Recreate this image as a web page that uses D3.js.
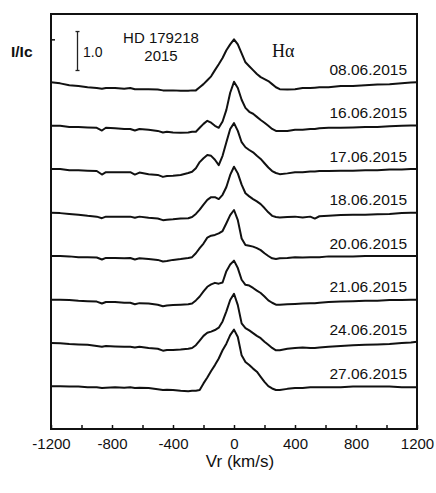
<!DOCTYPE html>
<html>
<head>
<meta charset="utf-8">
<script src="https://cdn.jsdelivr.net/npm/d3@7"></script>
<style>
  html, body { margin: 0; padding: 0; background: #fff; }
  svg text { font-family: "Liberation Sans", Arial, sans-serif; fill: #111; }
</style>
</head>
<body>
<svg id="chart" width="436" height="493"></svg>
<script>
// Radial velocity grid (km/s) shared by all H-alpha profiles
const velocity = [-1200,-1140,-1080,-1020,-960,-900,-866,-840,-780,-720,-680,-650,-620,-560,-500,-466,-440,-400,-350,-300,-275,-250,-225,-200,-175,-150,-125,-100,-75,-50,-25,0,25,50,75,100,125,150,175,200,225,250,275,300,350,400,450,500,530,560,620,700,780,860,940,1020,1100,1160,1200];

// Normalised intensity I/Ic for each night
const flux_0806 = [1.00,0.97,0.92,0.90,0.87,0.85,0.83,0.85,0.85,0.83,0.85,0.82,0.82,0.82,0.81,0.79,0.79,0.79,0.78,0.78,0.79,0.79,0.87,0.95,1.05,1.15,1.31,1.46,1.62,1.82,1.97,2.10,1.97,1.74,1.51,1.41,1.31,1.21,1.13,1.08,1.03,0.95,0.87,0.82,0.81,0.82,0.85,0.85,0.86,0.87,0.87,0.90,0.90,0.92,0.94,0.95,0.97,0.99,1.00];
const flux_1606 = [1.00,1.00,0.97,0.97,0.96,0.95,0.88,0.95,0.94,0.92,0.92,0.88,0.92,0.90,0.87,0.83,0.85,0.83,0.82,0.83,0.85,0.85,0.95,1.05,1.13,1.08,1.00,0.95,1.11,1.41,1.85,2.13,1.97,1.67,1.46,1.36,1.31,1.23,1.15,1.08,1.00,0.92,0.87,0.87,0.87,0.90,0.90,0.92,0.92,0.94,0.95,0.95,0.96,0.97,0.97,0.99,1.00,1.01,1.01];
const flux_1706 = [1.00,1.00,0.97,0.97,0.96,0.95,0.86,0.92,0.92,0.92,0.92,0.86,0.91,0.87,0.85,0.80,0.82,0.83,0.85,0.90,0.93,1.02,1.18,1.28,1.36,1.34,1.24,1.10,1.34,1.69,2.03,2.18,1.98,1.69,1.56,1.49,1.43,1.34,1.26,1.15,1.04,0.95,0.90,0.87,0.89,0.92,0.92,0.94,0.94,0.95,0.95,0.96,0.96,0.97,0.97,0.99,0.99,1.00,1.00];
const flux_1806 = [1.00,0.99,0.97,0.95,0.92,0.90,0.86,0.90,0.90,0.90,0.90,0.87,0.90,0.87,0.85,0.81,0.82,0.83,0.85,0.86,0.89,0.97,1.08,1.21,1.33,1.40,1.40,1.35,1.46,1.66,1.97,2.18,2.01,1.72,1.50,1.42,1.35,1.29,1.22,1.12,1.01,0.92,0.89,0.88,0.89,0.90,0.88,0.90,0.85,0.91,0.92,0.94,0.95,0.95,0.96,0.97,0.99,1.00,1.00];
const flux_2006 = [1.00,1.00,0.99,0.97,0.97,0.96,0.91,0.95,0.95,0.94,0.95,0.91,0.94,0.92,0.90,0.86,0.87,0.90,0.92,0.95,0.97,1.07,1.20,1.32,1.47,1.52,1.54,1.58,1.64,1.84,2.05,2.18,1.92,1.45,1.28,1.26,1.24,1.20,1.15,1.07,1.00,0.94,0.92,0.94,0.95,0.97,0.96,0.97,0.97,0.97,0.99,0.99,0.99,1.00,1.00,1.00,1.00,1.00,1.00];
const flux_2106 = [1.00,1.00,0.99,0.97,0.96,0.95,0.90,0.94,0.94,0.92,0.92,0.88,0.91,0.90,0.87,0.83,0.85,0.86,0.87,0.88,0.90,0.98,1.08,1.21,1.33,1.39,1.43,1.41,1.44,1.73,1.90,2.00,1.81,1.51,1.38,1.36,1.30,1.23,1.17,1.08,0.98,0.92,0.87,0.87,0.88,0.89,0.90,0.91,0.91,0.92,0.94,0.95,0.96,0.97,0.97,0.99,0.99,1.00,1.00];
const flux_2406 = [1.00,0.99,0.97,0.96,0.95,0.92,0.90,0.92,0.91,0.90,0.90,0.88,0.90,0.87,0.85,0.80,0.82,0.82,0.83,0.85,0.87,0.94,1.06,1.18,1.26,1.29,1.33,1.39,1.55,1.81,2.10,2.26,1.97,1.50,1.38,1.32,1.25,1.18,1.12,1.03,0.95,0.87,0.81,0.81,0.85,0.87,0.88,0.87,0.87,0.88,0.90,0.92,0.94,0.95,0.96,0.97,1.00,1.01,1.03];
const flux_2706 = [1.00,1.00,0.99,0.99,0.97,0.97,0.95,0.96,0.97,0.96,0.97,0.95,0.96,0.95,0.92,0.90,0.91,0.90,0.88,0.87,0.88,0.88,0.90,1.07,1.22,1.39,1.54,1.71,1.92,2.09,2.31,2.45,2.26,1.79,1.62,1.54,1.45,1.37,1.24,1.11,1.00,0.94,0.90,0.90,0.93,0.95,0.95,0.97,0.97,0.97,0.97,0.97,0.99,0.99,0.99,0.99,0.97,0.97,0.97];

// Observation dates, top to bottom, and the vertical shift applied to each profile
const dates = ["08.06.2015","16.06.2015","17.06.2015","18.06.2015","20.06.2015","21.06.2015","24.06.2015","27.06.2015"];
const offsets = [7.90, 6.78, 5.67, 4.55, 3.44, 2.32, 1.21, 0.10];

// Axis ticks
const xTicks = [-1200,-1000,-800,-600,-400,-200,0,200,400,600,800,1000,1200];
const xLabelled = [-1200,-800,-400,0,400,800,1200];
const yTicks = [10];
const scaleBar = [9.2, 10.2];

const spectra = [flux_0806, flux_1606, flux_1706, flux_1806, flux_2006, flux_2106, flux_2406, flux_2706];

const svg = d3.select("#chart");
const plotL = 51, plotR = 417, plotT = 14, plotB = 429;

const x = d3.scaleLinear().domain([-1200, 1200]).range([plotL, plotR]);
const y = d3.scaleLinear().domain([0, 10.65]).range([plotB, plotT]);

// Profiles
const line = d3.line()
  .x(d => x(d[0]))
  .y(d => y(d[1]));

spectra.forEach((flux, i) => {
  const pts = velocity.map((v, j) => [v, flux[j] + offsets[i]]);
  svg.append("path")
    .datum(pts)
    .attr("fill", "none")
    .attr("stroke", "#111")
    .attr("stroke-width", 2)
    .attr("stroke-linejoin", "round")
    .attr("d", line);

  svg.append("text")
    .attr("x", 407)
    .attr("y", y(offsets[i] + 1.0 + 0.19))
    .attr("text-anchor", "end")
    .attr("font-size", 15.5)
    .text(dates[i]);
});

// Bottom axis with inward ticks
const xAxis = d3.axisBottom(x)
  .tickValues(xTicks)
  .tickSize(-4)
  .tickPadding(9)
  .tickFormat(d => xLabelled.includes(d) ? String(d) : "");

const gx = svg.append("g")
  .attr("transform", `translate(0,${plotB})`)
  .call(xAxis);
gx.select(".domain").remove();
gx.selectAll(".tick line").attr("stroke", "#111").attr("stroke-width", 1.5);
gx.selectAll(".tick text")
  .attr("font-size", 15)
  .attr("font-family", "Liberation Sans, Arial, sans-serif")
  .attr("fill", "#111");

// Left axis: single inward tick
const yAxis = d3.axisLeft(y).tickValues(yTicks).tickSize(-4).tickFormat("");
const gy = svg.append("g").attr("transform", `translate(${plotL},0)`).call(yAxis);
gy.select(".domain").remove();
gy.selectAll(".tick line").attr("stroke", "#111").attr("stroke-width", 1.5);

// Plot frame
svg.append("rect")
  .attr("x", plotL).attr("y", plotT)
  .attr("width", plotR - plotL).attr("height", plotB - plotT)
  .attr("fill", "none")
  .attr("stroke", "#111")
  .attr("stroke-width", 2);

// Intensity scale bar
const barX = 77.5;
svg.append("line")
  .attr("x1", barX).attr("x2", barX)
  .attr("y1", y(scaleBar[0])).attr("y2", y(scaleBar[1]))
  .attr("stroke", "#222").attr("stroke-width", 1.3);
scaleBar.forEach(v => {
  svg.append("line")
    .attr("x1", barX - 2).attr("x2", barX + 2)
    .attr("y1", y(v)).attr("y2", y(v))
    .attr("stroke", "#222").attr("stroke-width", 1.3);
});
svg.append("text")
  .attr("x", 83).attr("y", 57)
  .attr("font-size", 14)
  .text((scaleBar[1] - scaleBar[0]).toFixed(1));

// Titles and annotations
svg.append("text")
  .attr("x", 11).attr("y", 57)
  .attr("font-size", 15.5)
  .attr("font-weight", "bold")
  .text("I/Ic");

svg.append("text")
  .attr("x", 161).attr("y", 43)
  .attr("text-anchor", "middle")
  .attr("font-size", 15)
  .text("HD 179218");
svg.append("text")
  .attr("x", 161).attr("y", 61)
  .attr("text-anchor", "middle")
  .attr("font-size", 15)
  .text("2015");

svg.append("text")
  .attr("x", 272).attr("y", 57)
  .attr("font-size", 18)
  .style("font-family", "'Liberation Serif', 'Times New Roman', serif")
  .text("H\u03B1");

svg.append("text")
  .attr("x", 240).attr("y", 467)
  .attr("text-anchor", "middle")
  .attr("font-size", 17)
  .text("Vr (km/s)");
</script>
</body>
</html>
